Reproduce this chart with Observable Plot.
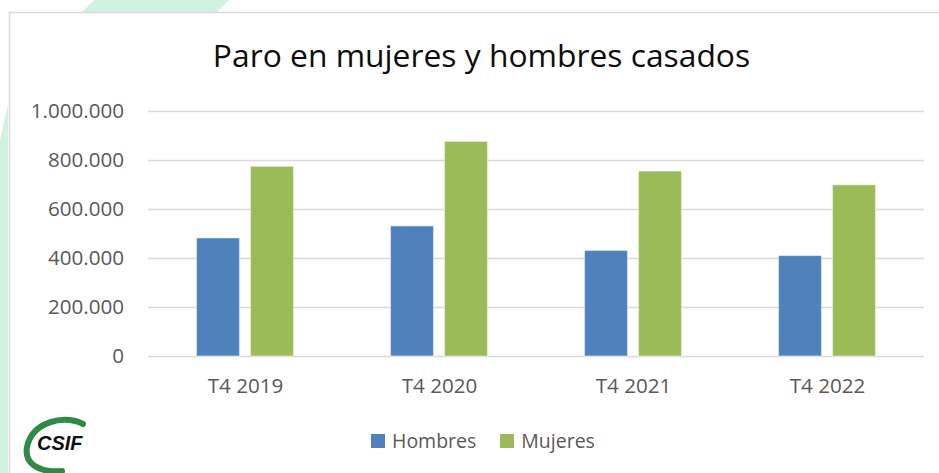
<!DOCTYPE html>
<html><head><meta charset="utf-8">
<script src="https://cdn.jsdelivr.net/npm/d3@7"></script>
<script src="https://cdn.jsdelivr.net/npm/@observablehq/plot@0.6"></script>
<style>
html,body{margin:0;padding:0;background:#fff;}
#wrap{position:relative;width:939px;height:473px;overflow:hidden;font-family:"Open Sans",sans-serif;}
#chart,#deco,#legend{position:absolute;left:0;top:0;}
#deco{pointer-events:none;}
#legend{left:371px;top:424px;}
.lg-swatch{margin-right:24px !important;}
.lg-swatch > svg{margin-right:7px !important;}
</style></head><body>
<div id="wrap">
  <div id="chart"></div>
  <svg id="deco" width="939" height="473" viewBox="0 0 939 473">
    <polygon points="94,0 229,0 217,12 82,12" fill="#cff2e1"/>
    <polygon points="0,140 8,104 8,473 0,473" fill="#cff2e1"/>
    <rect x="9.5" y="12.5" width="960" height="500" fill="none" stroke="#d9d9d9" stroke-width="1.5"/>
    <text id="title" x="481.5" y="66.7" text-anchor="middle" font-family="Open Sans" font-size="31.8" fill="#0d0d0d"></text>
    <g id="logo">
      <path d="M83,424 C64,414 32,422 27,447 C24,463 38,473 62,471" fill="none" stroke="#2f8a46" stroke-width="6" stroke-linecap="round"/>
      <text x="37" y="450" font-family="Liberation Sans" font-weight="bold" font-style="italic" font-size="20" fill="#111">CSIF</text>
    </g>
  </svg>
  <div id="legend"></div>
</div>
<script>
const title = "Paro en mujeres y hombres casados";
const periods = ["T4 2019", "T4 2020", "T4 2021", "T4 2022"];
const series = ["Hombres", "Mujeres"];
const hombres = [482000, 531000, 431000, 410000];
const mujeres = [774000, 876000, 755000, 699000];
const seriesColors = ["#4f81bd", "#9bbb59"];
const yTicks = [0, 200000, 400000, 600000, 800000, 1000000];

const data = periods.flatMap((p, i) => [
  {period: p, sex: series[0], value: hombres[i]},
  {period: p, sex: series[1], value: mujeres[i]}
]);
const es = d3.formatLocale({decimal: ",", thousands: ".", grouping: [3], currency: ["", "€"]});
const fmt = es.format(",d");

document.getElementById("title").textContent = title;

const chart = Plot.plot({
  width: 939,
  height: 473,
  marginTop: 111,
  marginBottom: 117,
  marginLeft: 146.5,
  marginRight: 14.4,
  style: {fontFamily: "Open Sans", fontSize: "20.6px", color: "#595959", background: "white"},
  fx: {domain: periods, padding: 0, axis: "bottom", tickSize: 0, tickPadding: 22, label: null},
  x: {domain: series, paddingInner: 0.2, paddingOuter: 0.87, axis: null},
  y: {domain: [0, 1000000], ticks: yTicks, tickFormat: fmt, tickSize: 0, tickPadding: 24.5, label: null},
  color: {domain: series, range: seriesColors},
  marks: [
    Plot.ruleY(yTicks, {stroke: "#d9d9d9", strokeWidth: 1.5}),
    Plot.barY(data, {fx: "period", x: "sex", y: "value", fill: "sex", stroke: "white", strokeOpacity: 0.45, strokeWidth: 1.2})
  ]
});
document.getElementById("chart").appendChild(chart);

const legend = Plot.legend({
  color: {domain: series, range: seriesColors},
  legend: "swatches",
  swatchSize: 14,
  className: "lg",
  style: {fontFamily: "Open Sans", fontSize: "19.5px", color: "#595959"}
});
document.getElementById("legend").appendChild(legend);
</script>
</body></html>
